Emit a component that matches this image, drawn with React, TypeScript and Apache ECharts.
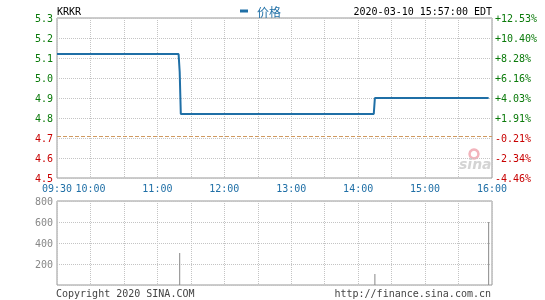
import React, { useEffect, useRef } from "react";
import * as echarts from "echarts";

const symbol = "KRKR";
const stamp = "2020-03-10 15:57:00 EDT";
const prevClose = 4.71;
const priceTimes = ["09:30", "11:19", "11:20", "11:21", "14:14", "14:15", "15:57"];
const priceValues = [5.12, 5.12, 5.03, 4.82, 4.82, 4.9, 4.9];
const volumeTimes = ["11:20", "14:15", "15:57"];
const volumeValues = [305, 105, 600];
const priceTicks = { min: 4.5, max: 5.3, step: 0.1 };
const volumeTicks = { min: 0, max: 800, step: 200 };

const toMin = (t: string) => {
  const [h, m] = t.split(":").map(Number);
  return h * 60 + m - (9 * 60 + 30);
};
const fmtTime = (v: number) => {
  const tot = v + 9 * 60 + 30;
  const h = Math.floor(tot / 60);
  const m = tot % 60;
  return `${String(h).padStart(2, "0")}:${String(m).padStart(2, "0")}`;
};

const MONO = "DejaVu Sans Mono";
const GREEN = "#0a7a0a";
const RED = "#c80000";
const BLUE = "#1f6fa6";

export default function App() {
  const ref = useRef<HTMLDivElement>(null);
  useEffect(() => {
    if (!ref.current) return;
    const chart = echarts.init(ref.current, null, { renderer: "svg" });
    const priceData = priceTimes.map((t, i) => [toMin(t), priceValues[i]]);
    const volData = volumeTimes.map((t, i) => [toMin(t), volumeValues[i]]);
    const gridBox = { show: true, borderColor: "#999", borderWidth: 1, backgroundColor: "transparent" };
    const split = { show: true, lineStyle: { type: "dotted" as const, color: "#c4c4c4", width: 1 } };
    const xBase = {
      type: "value" as const,
      min: 0,
      max: 390,
      interval: 30,
      axisLine: { show: false },
      axisTick: { show: false },
      splitLine: split,
    };
    chart.setOption({
      animation: false,
      textStyle: { fontFamily: MONO },
      grid: [
        { left: 57, top: 18, width: 435, height: 160, ...gridBox },
        { left: 57, top: 201, width: 435, height: 84, ...gridBox },
      ],
      legend: {
        data: ["价格"],
        left: 235,
        top: 0,
        icon: "rect",
        itemWidth: 8,
        itemHeight: 3,
        textStyle: { color: BLUE, fontSize: 12, fontFamily: "Noto Sans CJK SC", padding: [0, 0, 0, 4] },
      },
      xAxis: [
        {
          ...xBase,
          gridIndex: 0,
          axisLabel: {
            show: true,
            margin: 5,
            color: BLUE,
            fontSize: 10,
            fontFamily: MONO,
            showMinLabel: true,
            showMaxLabel: true,
            formatter: (v: number) => (v === 0 || (v - 30) % 60 === 0 ? fmtTime(v) : ""),
          },
        },
        { ...xBase, gridIndex: 1, axisLabel: { show: false } },
      ],
      yAxis: [
        {
          type: "value",
          gridIndex: 0,
          position: "left",
          min: priceTicks.min,
          max: priceTicks.max,
          interval: priceTicks.step,
          axisLine: { show: false },
          axisTick: { show: false },
          splitLine: split,
          axisLabel: {
            margin: 4,
            fontSize: 10,
            fontFamily: MONO,
            formatter: (v: number) => v.toFixed(1),
            color: (v: any) => (Number(v) >= prevClose ? GREEN : RED),
          },
        },
        {
          type: "value",
          gridIndex: 0,
          position: "right",
          min: priceTicks.min,
          max: priceTicks.max,
          interval: priceTicks.step,
          axisLine: { show: false },
          axisTick: { show: false },
          splitLine: { show: false },
          axisLabel: {
            margin: 3,
            fontSize: 10,
            fontFamily: MONO,
            formatter: (v: number) => {
              const p = (v / prevClose - 1) * 100;
              return (p >= 0 ? "+" : "") + p.toFixed(2) + "%";
            },
            color: (v: any) => (Number(v) >= prevClose ? GREEN : RED),
          },
        },
        {
          type: "value",
          gridIndex: 1,
          position: "left",
          min: volumeTicks.min,
          max: volumeTicks.max,
          interval: volumeTicks.step,
          axisLine: { show: false },
          axisTick: { show: false },
          splitLine: split,
          axisLabel: {
            margin: 4,
            fontSize: 10,
            fontFamily: MONO,
            color: "#888",
            formatter: (v: number) => (v === 0 ? "" : String(v)),
          },
        },
      ],
      series: [
        {
          name: "价格",
          type: "line",
          xAxisIndex: 0,
          yAxisIndex: 0,
          data: priceData,
          showSymbol: false,
          lineStyle: { color: BLUE, width: 2 },
          itemStyle: { color: BLUE },
          markLine: {
            silent: true,
            symbol: "none",
            label: { show: false },
            lineStyle: { type: "dashed", color: "#d09a60", width: 1 },
            data: [{ yAxis: prevClose }],
          },
        },
        {
          name: "成交量",
          type: "bar",
          xAxisIndex: 1,
          yAxisIndex: 2,
          data: volData,
          barWidth: 1,
          itemStyle: { color: "#888" },
        },
      ],
      graphic: [
        { type: "text", left: 57, top: 6, style: { text: symbol, fontSize: 10, fontFamily: MONO, fill: "#000" } },
        { type: "text", right: 53, top: 6, style: { text: stamp, fontSize: 10, fontFamily: MONO, fill: "#000" } },
        { type: "text", left: 56, top: 288, style: { text: "Copyright 2020 SINA.COM", fontSize: 10, fontFamily: MONO, fill: "#444" } },
        { type: "text", right: 54, top: 288, style: { text: "http://finance.sina.com.cn", fontSize: 10, fontFamily: MONO, fill: "#444" } },
        { type: "circle", shape: { cx: 474, cy: 154, r: 4.5 }, style: { fill: "none", stroke: "#f2b4bc", lineWidth: 2.5 } },
        { type: "text", left: 459, top: 157, style: { text: "sina", fontSize: 14, fontStyle: "italic", fontWeight: "bold", fontFamily: "DejaVu Sans", fill: "#d4d4d4" } },
      ],
    });
    return () => chart.dispose();
  }, []);
  return <div ref={ref} style={{ position: "fixed", left: 0, top: 0, width: 545, height: 300 }} />;
}
